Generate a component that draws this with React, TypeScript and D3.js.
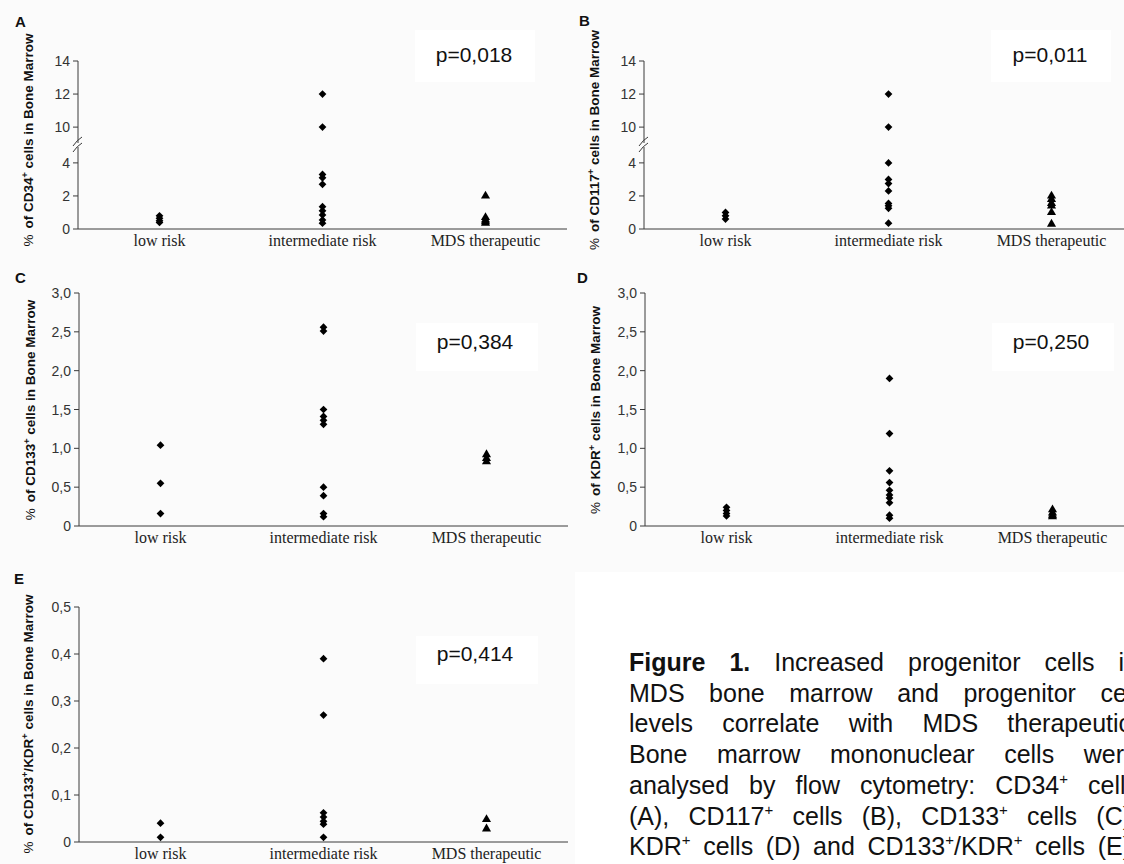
import React, { useEffect, useRef } from "react";
import * as d3 from "d3";

const categories = ["low risk", "intermediate risk", "MDS therapeutic"];

// A: CD34+
const aLow = [0.8, 0.65, 0.5, 0.4];
const aInt = [12.0, 10.0, 3.3, 3.1, 2.7, 1.35, 1.1, 0.85, 0.55, 0.35];
const aMds = [2.0, 0.7, 0.55, 0.45, 0.35];
// B: CD117+
const bLow = [1.0, 0.8, 0.6];
const bInt = [12.0, 10.0, 4.0, 3.0, 2.75, 2.3, 1.55, 1.4, 1.25, 0.35];
const bMds = [2.0, 1.8, 1.55, 1.4, 1.0, 0.3];
// C: CD133+
const cLow = [1.04, 0.55, 0.16];
const cInt = [2.56, 2.51, 1.5, 1.41, 1.36, 1.31, 0.5, 0.39, 0.16, 0.12];
const cMds = [0.92, 0.87, 0.83];
// D: KDR+
const dLow = [0.24, 0.2, 0.16, 0.13];
const dInt = [1.9, 1.19, 0.71, 0.56, 0.46, 0.4, 0.36, 0.3, 0.14, 0.1];
const dMds = [0.21, 0.17, 0.14, 0.12];
// E: CD133+/KDR+
const eLow = [0.04, 0.01];
const eInt = [0.39, 0.27, 0.062, 0.053, 0.044, 0.038, 0.01];
const eMds = [0.048, 0.028];

const ticksAB = [0, 2, 4, 10, 12, 14];
const ticksCD = [0, 0.5, 1, 1.5, 2, 2.5, 3];
const ticksE = [0, 0.1, 0.2, 0.3, 0.4, 0.5];

const pValues = ["p=0,018", "p=0,011", "p=0,384", "p=0,250", "p=0,414"];
const letters = ["A", "B", "C", "D", "E"];
const yTitles = [
  "of CD34⁺ cells in Bone Marrow",
  "of CD117⁺ cells in Bone Marrow",
  "of CD133⁺ cells in Bone Marrow",
  "of KDR⁺ cells in Bone Marrow",
  "of CD133⁺/KDR⁺ cells in Bone Marrow",
];

const captionLines = [
  ["*Figure", "*1.", "Increased", "progenitor", "cells", "in"],
  ["MDS", "bone", "marrow", "and", "progenitor", "cell"],
  ["levels", "correlate", "with", "MDS", "therapeutic."],
  ["Bone", "marrow", "mononuclear", "cells", "were"],
  ["analysed", "by", "flow", "cytometry:", "CD34⁺", "cells"],
  ["(A),", "CD117⁺", "cells", "(B),", "CD133⁺", "cells", "(C),"],
  ["KDR⁺", "cells", "(D)", "and", "CD133⁺/KDR⁺", "cells", "(E)."],
];

const SANS = "Arial, 'Liberation Sans', sans-serif";
const SERIF = "'Times New Roman', 'Liberation Serif', serif";

const fmtComma = (d: number) => (d === 0 ? "0" : d3.format(".1f")(d).replace(".", ","));

function supSpans(text: string, supSize: number, shift: number) {
  const parts = text.split("⁺");
  const out: any[] = [];
  parts.forEach((p, i) => {
    if (i > 0) {
      out.push(<tspan key={"s" + i} dy={-shift} fontSize={supSize}>+</tspan>);
      out.push(<tspan key={"t" + i} dy={shift}>{p}</tspan>);
    } else {
      out.push(<tspan key="t0">{p}</tspan>);
    }
  });
  return out;
}

const diamond = d3.symbol().type(d3.symbolSquare).size(30)() as string;
const triangle = d3.symbol().type(d3.symbolTriangle).size(36)() as string;

function Panel({ idx, values, ticks, broken, fmt, domainMax, lay }: any) {
  const { left, right, top, bottom } = lay;
  const x = d3.scalePoint<string>().domain(categories).range([left, right]).padding(0.5);
  let y: d3.ScaleLinear<number, number>;
  const gapLo = 4.9, gapHi = 9.1;
  if (broken) {
    const k = (bottom - top - 6) / (gapLo + (domainMax - gapHi));
    y = d3.scaleLinear().domain([0, gapLo, gapHi, domainMax]).range([bottom, bottom - gapLo * k, top + (domainMax - gapHi) * k, top]);
  } else {
    y = d3.scaleLinear().domain([0, domainMax]).range([bottom, top]);
  }
  const axisColor = "#3a3a3a";
  return (
    <g>
      <rect x={lay.box[0]} y={lay.box[1]} width={lay.box[2]} height={lay.box[3]} fill="#ffffff" />
      <text x={lay.letter[0]} y={lay.letter[1]} fontFamily={SANS} fontWeight="bold" fontSize={15} fill="#111">{letters[idx]}</text>
      {/* y axis */}
      {broken ? (
        <g stroke={axisColor} strokeWidth={1}>
          <line x1={left} x2={left} y1={top} y2={y(gapHi) + 1} />
          <line x1={left} x2={left} y1={y(gapLo) - 1} y2={bottom} />
          <path d={`M${left - 5},${y(gapHi) + 4} Q${left - 1},${y(gapHi) - 2} ${left + 4},${y(gapHi) - 5}`} fill="none" />
          <path d={`M${left - 5},${y(gapLo) + 4} Q${left - 1},${y(gapLo) - 2} ${left + 4},${y(gapLo) - 5}`} fill="none" />
        </g>
      ) : (
        <line x1={left} x2={left} y1={top} y2={bottom} stroke={axisColor} />
      )}
      {ticks.map((t: number) => (
        <g key={t}>
          <line x1={left - 5} x2={left} y1={y(t)} y2={y(t)} stroke={axisColor} />
          <text x={left - 8} y={y(t)} dy="0.36em" textAnchor="end" fontFamily={SANS} fontSize={14} fill="#333">{fmt(t)}</text>
        </g>
      ))}
      {/* x axis */}
      <line x1={left} x2={right} y1={bottom} y2={bottom} stroke={axisColor} />
      {categories.map((c) => (
        <text key={c} x={x(c)} y={bottom + 17} textAnchor="middle" fontFamily={SERIF} fontSize={16} fill="#222">{c}</text>
      ))}
      {/* y title */}
      <text transform={`translate(${lay.titleX},${lay.titleY}) rotate(-90)`} textAnchor="middle" fontFamily={SANS} fontSize={13.5} fill="#111">
        <tspan fontWeight="normal">%</tspan>
        <tspan dx={6} fontWeight="bold">{supSpans(yTitles[idx], 9, 5)}</tspan>
      </text>
      {/* points */}
      {values.map((vals: number[], ci: number) =>
        vals.map((v, i) => (
          <path
            key={ci + "-" + i}
            d={ci === 2 ? triangle : diamond}
            transform={ci === 2 ? `translate(${x(categories[ci])},${y(v)})` : `translate(${x(categories[ci])},${y(v)}) rotate(45)`}
            fill="#000"
          />
        ))
      )}
      <text x={lay.pX} y={lay.pY} textAnchor="middle" fontFamily={SANS} fontSize={21} fill="#111">{pValues[idx]}</text>
    </g>
  );
}

const layouts = [
  { left: 78, right: 567, top: 61, bottom: 229, pX: 474, pY: 62, box: [415, 30, 120, 52], letter: [15, 27], titleX: 33, titleY: 140 },
  { left: 644, right: 1133, top: 61, bottom: 229, pX: 1050, pY: 62, box: [991, 30, 120, 52], letter: [579, 26], titleX: 599, titleY: 140 },
  { left: 79, right: 568, top: 293, bottom: 526, pX: 475, pY: 349, box: [416, 323, 122, 48], letter: [15, 283], titleX: 35, titleY: 410 },
  { left: 645, right: 1134, top: 293, bottom: 526, pX: 1051, pY: 349, box: [992, 323, 122, 48], letter: [577, 283], titleX: 600, titleY: 410 },
  { left: 79, right: 568, top: 607, bottom: 842, pX: 475, pY: 661, box: [416, 636, 122, 48], letter: [14, 584], titleX: 33, titleY: 724 },
];

export default function App() {
  const capRef = useRef<SVGGElement>(null);

  useEffect(() => {
    const g = d3.select(capRef.current);
    g.selectAll("*").remove();
    const L = 629, R = 1138, fs = 25;
    captionLines.forEach((words, li) => {
      const yy = 671 + li * 30.7;
      const nodes = words.map((w) => {
        const bold = w.startsWith("*");
        const s = bold ? w.slice(1) : w;
        const t = g.append("text").attr("y", yy).attr("font-family", SANS).attr("font-size", fs).attr("fill", "#111")
          .attr("font-weight", bold ? "bold" : "normal");
        s.split("⁺").forEach((p, i) => {
          if (i > 0) {
            t.append("tspan").attr("dy", -10).attr("font-size", 15).text("+");
            t.append("tspan").attr("dy", 10).text(p);
          } else t.append("tspan").text(p);
        });
        return t;
      });
      const widths = nodes.map((n) => (n.node() as SVGTextElement).getComputedTextLength());
      const sum = d3.sum(widths);
      const gap = (R - L - sum) / (words.length - 1);
      let cx = L;
      nodes.forEach((n, i) => {
        n.attr("x", cx);
        cx += widths[i] + gap;
      });
    });
  }, []);

  const panels = [
    { values: [aLow, aInt, aMds], ticks: ticksAB, broken: true, fmt: (d: number) => String(d), domainMax: 14 },
    { values: [bLow, bInt, bMds], ticks: ticksAB, broken: true, fmt: (d: number) => String(d), domainMax: 14 },
    { values: [cLow, cInt, cMds], ticks: ticksCD, broken: false, fmt: fmtComma, domainMax: 3 },
    { values: [dLow, dInt, dMds], ticks: ticksCD, broken: false, fmt: fmtComma, domainMax: 3 },
    { values: [eLow, eInt, eMds], ticks: ticksE, broken: false, fmt: fmtComma, domainMax: 0.5 },
  ];

  return (
    <svg width={1124} height={864} style={{ position: "absolute", left: 0, top: 0, background: "#fbfbfb" }}>
      <rect x={575} y={572} width={549} height={292} fill="#ffffff" />
      {panels.map((p, i) => (
        <Panel key={i} idx={i} {...p} lay={layouts[i]} />
      ))}
      <g ref={capRef} />
    </svg>
  );
}
